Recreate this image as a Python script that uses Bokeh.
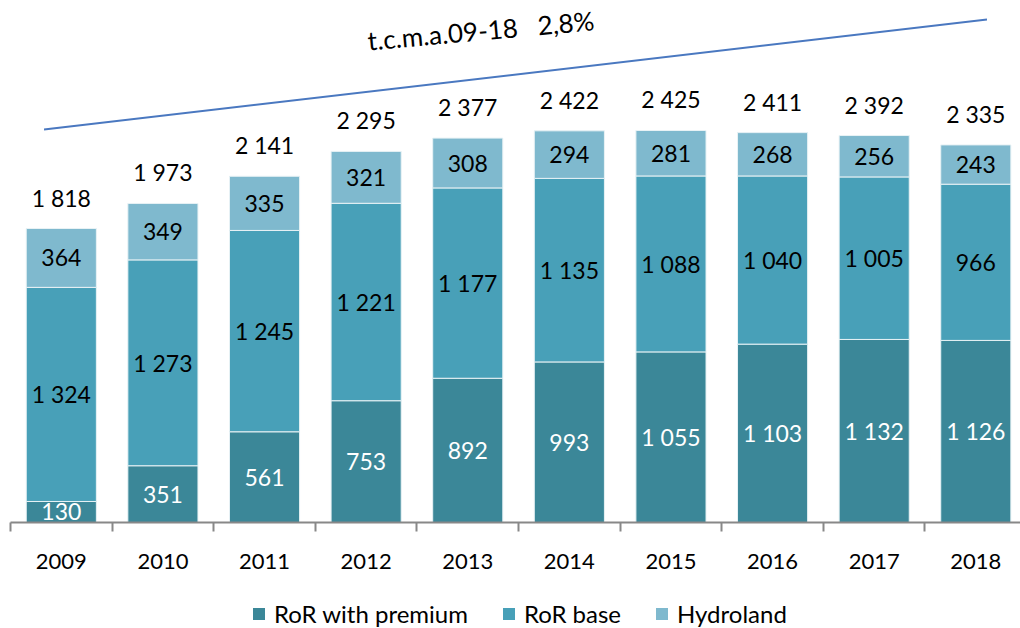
from bokeh.plotting import figure
from bokeh.layouts import column
from bokeh.models import ColumnDataSource, FixedTicker, Range1d, Legend, LegendItem
from bokeh.core.properties import value
from bokeh.embed import file_html
from bokeh.resources import INLINE

years = ["2009", "2010", "2011", "2012", "2013", "2014", "2015", "2016", "2017", "2018"]
premium = [130, 351, 561, 753, 892, 993, 1055, 1103, 1132, 1126]
base = [1324, 1273, 1245, 1221, 1177, 1135, 1088, 1040, 1005, 966]
hydro = [364, 349, 335, 321, 308, 294, 281, 268, 256, 243]
totals = [1818, 1973, 2141, 2295, 2377, 2422, 2425, 2411, 2392, 2335]
series_names = ["RoR with premium", "RoR base", "Hydroland"]
trend_x = [-0.17, 9.11]
trend_y = [2430, 3110]
trend_label = "t.c.m.a.09-18\u00a0\u00a0\u00a02,8%"

FONT = "Lato"
C_PREM = "#3b8798"
C_BASE = "#48a0b8"
C_HYDRO = "#7fb9ce"
colors = [C_PREM, C_BASE, C_HYDRO]

def fmt(v):
    return "{:,}".format(v).replace(",", "\u00a0")

x = list(range(len(years)))
b0 = [0] * len(x)
b1 = premium
b2 = [p + b for p, b in zip(premium, base)]
t2 = [a + h for a, h in zip(b2, hydro)]

src = ColumnDataSource(dict(
    x=x, b0=b0, b1=b1, b2=b2, t2=t2,
    ym_p=[(a + b) / 2 for a, b in zip(b0, b1)],
    ym_b=[(a + b) / 2 for a, b in zip(b1, b2)],
    ym_h=[(a + b) / 2 for a, b in zip(b2, t2)],
    lp=[fmt(v) for v in premium],
    lb=[fmt(v) for v in base],
    lh=[fmt(v) for v in hydro],
    tot=totals,
    lt=[fmt(v) for v in totals],
))

p = figure(width=1020, height=594, output_backend="svg", toolbar_location=None,
           x_range=Range1d(-0.5, 9.44), y_range=Range1d(0, 3228),
           min_border_left=10, min_border_right=0, min_border_top=0, min_border_bottom=72)
p.outline_line_color = None
p.grid.visible = False
p.yaxis.visible = False

w = 0.69
p.vbar(x="x", bottom="b0", top="b1", width=w, source=src, fill_color=C_PREM, line_color="#e8f2f5", line_width=1)
p.vbar(x="x", bottom="b1", top="b2", width=w, source=src, fill_color=C_BASE, line_color="#e8f2f5", line_width=1)
p.vbar(x="x", bottom="b2", top="t2", width=w, source=src, fill_color=C_HYDRO, line_color="#e8f2f5", line_width=1)

common = dict(text_font=value(FONT), text_font_size="23px", text_align="center", text_baseline="middle")
p.text(x="x", y="ym_p", text="lp", source=src, text_color="white", **common)
p.text(x="x", y="ym_b", text="lb", source=src, text_color="black", **common)
p.text(x="x", y="ym_h", text="lh", source=src, text_color="black", **common)
p.text(x="x", y="tot", text="lt", source=src, text_color="black", y_offset=-31, **common)

p.line(trend_x, trend_y, line_color="#4a78c0", line_width=2)
p.text(x=[4.13], y=[3043], text=[trend_label], angle=0.09, text_color="black",
       text_font=value(FONT), text_font_size="26px", text_align="center", text_baseline="middle")

ax = p.xaxis[0]
ax.ticker = FixedTicker(ticks=x, minor_ticks=[i - 0.5 for i in range(len(years) + 1)])
ax.major_label_overrides = {i: y for i, y in enumerate(years)}
ax.major_tick_out = 0
ax.major_tick_in = 0
ax.minor_tick_out = 9
ax.minor_tick_in = 0
ax.minor_tick_line_color = "#888888"
ax.minor_tick_line_width = 2
ax.axis_line_color = "#888888"
ax.axis_line_width = 2
ax.major_label_text_font = FONT
ax.major_label_text_font_size = "22px"
ax.major_label_text_color = "black"
ax.major_label_standoff = 22

# legend strip
q = figure(width=1020, height=34, output_backend="svg", toolbar_location=None,
           x_range=Range1d(0, 1), y_range=Range1d(0, 1),
           min_border_left=0, min_border_right=0, min_border_top=0, min_border_bottom=0)
q.outline_line_color = None
q.grid.visible = False
q.axis.visible = False
items = []
for name, c in zip(series_names, colors):
    r = q.vbar(x=[-10], top=[0], width=0.1, fill_color=c, line_color=None)
    items.append(LegendItem(label=name, renderers=[r]))
legend = Legend(items=items, orientation="horizontal", location=(241, 0))
legend.label_text_font = FONT
legend.label_text_font_size = "24px"
legend.label_text_color = "black"
legend.glyph_width = 15
legend.glyph_height = 15
legend.label_standoff = 8
legend.spacing = 33
legend.border_line_color = None
legend.background_fill_alpha = 0
legend.padding = 0
legend.margin = 0
q.add_layout(legend, "center")

layout = column(p, q, spacing=0)
open("out.html", "w").write(file_html(layout, INLINE))
